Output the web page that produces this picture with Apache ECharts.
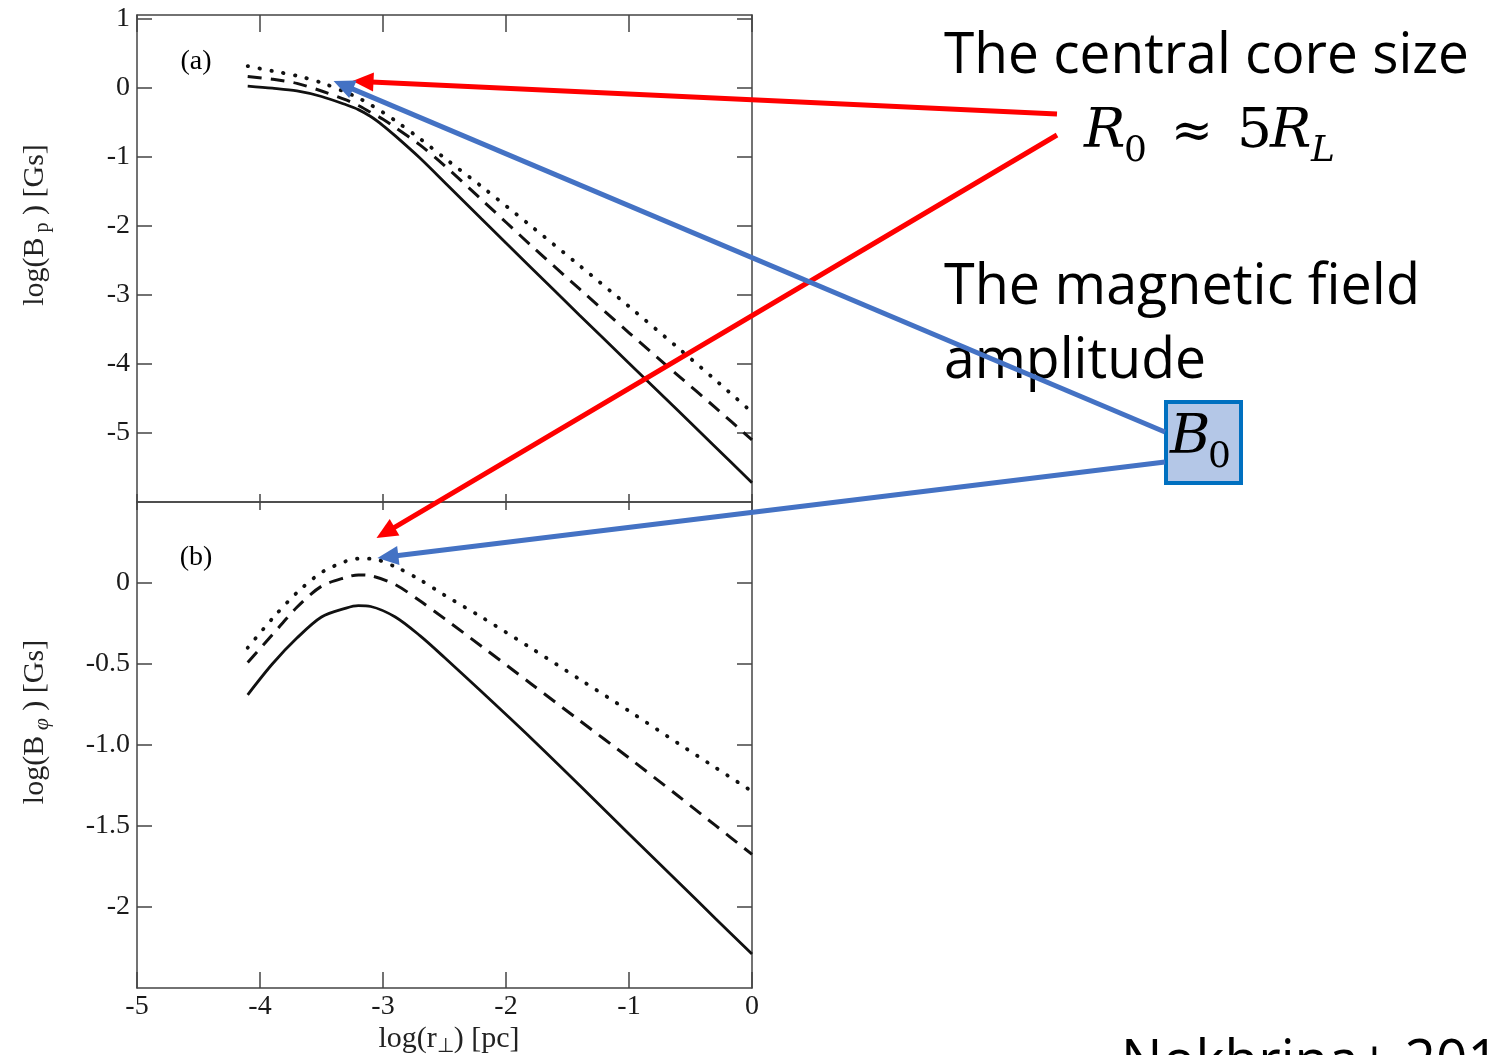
<!DOCTYPE html>
<html><head><meta charset="utf-8">
<script src="https://cdn.jsdelivr.net/npm/echarts@6/dist/echarts.min.js"></script>
<style>html,body{margin:0;padding:0;background:#fff;overflow:hidden;} #c{width:1501px;height:1055px;}</style>
</head><body><div id="c"></div>
<script>
// ---------------- data ----------------
const aX      = [-4.1,-3.9,-3.7,-3.5,-3.3,-3.2,-3.1,-3.0,-2.9,-2.7,-2.5,-2.2,-1.8,-1.4,-1.0,-0.6,-0.3,0];
const aSolid  = [0.02,-0.01,-0.05,-0.13,-0.25,-0.32,-0.42,-0.55,-0.70,-1.02,-1.37,-1.90,-2.60,-3.30,-3.99,-4.68,-5.20,-5.72];
const aDashed = [0.16,0.12,0.06,-0.05,-0.18,-0.26,-0.36,-0.46,-0.58,-0.83,-1.13,-1.62,-2.28,-2.92,-3.55,-4.17,-4.63,-5.10];
const aDotted = [0.31,0.24,0.17,0.07,-0.07,-0.15,-0.25,-0.36,-0.48,-0.74,-1.02,-1.43,-2.00,-2.58,-3.17,-3.77,-4.23,-4.70];

const bX      = [-4.1,-3.9,-3.7,-3.5,-3.3,-3.2,-3.1,-2.9,-2.7,-2.5,-2.2,-1.8,-1.4,-1.0,-0.6,-0.3,0];
const bSolid  = [-0.69,-0.50,-0.34,-0.21,-0.155,-0.14,-0.145,-0.21,-0.325,-0.46,-0.67,-0.955,-1.25,-1.55,-1.845,-2.07,-2.29];
const bDashed = [-0.49,-0.32,-0.15,-0.02,0.035,0.05,0.045,-0.01,-0.11,-0.22,-0.39,-0.62,-0.85,-1.08,-1.315,-1.495,-1.675];
const bDotted = [-0.40,-0.22,-0.06,0.065,0.135,0.15,0.15,0.10,0.02,-0.075,-0.21,-0.40,-0.595,-0.79,-0.99,-1.138,-1.286];

const xTicks = [-5,-4,-3,-2,-1,0];
const xTickLabels = ['-5','-4','-3','-2','-1','0'];
const aTicks = [-5,-4,-3,-2,-1,0,1];
const aTickLabels = ['-5','-4','-3','-2','-1','0','1'];
const bTicks = [-2,-1.5,-1,-0.5,0];
const bTickLabels = ['-2','-1.5','-1.0','-0.5','0'];

// annotation arrow tips in data coordinates [grid, x, y]
const arrowTips = { red1:[0,-3.248,0.094], blue1:[0,-3.402,0.094], red2:[1,-3.053,0.278], blue2:[1,-3.045,0.154] };

// ---------------- chart ----------------
const chart = echarts.init(document.getElementById('c'), null, {renderer:'canvas'});
const serif = '"Liberation Serif", "Times New Roman", serif';
const axisColor = '#444';
function pairs(xs, ys){ return xs.map((x,i)=>[x, ys[i]]); }
function lab(ticks, labels){ return v => { const i = ticks.findIndex(t=>Math.abs(t-v)<1e-6); return i>=0 ? labels[i] : ''; }; }
function tick(len, vals){ return {show:true, inside:true, length:len, customValues:vals, lineStyle:{color:axisColor, width:1.5}}; }
const aLine = {show:true, onZero:false, lineStyle:{color:axisColor, width:1.5}};
const labStyle = {fontFamily:serif, fontSize:28, color:'#1a1a1a'};

function xAxisDef(grid, pos, showLab, len){
  return {type:'value', gridIndex:grid, position:pos, min:-5, max:0, interval:1,
    axisLine:aLine, axisTick:tick(len, xTicks), splitLine:{show:false},
    axisLabel:Object.assign({show:showLab, customValues:xTicks, margin:5, formatter:lab(xTicks,xTickLabels)}, labStyle)};
}
function yAxisDef(grid, pos, showLab, min, max, interval, ticks, labels){
  return {type:'value', gridIndex:grid, position:pos, min:min, max:max, interval:interval,
    axisLine:aLine, axisTick:tick(15, ticks), splitLine:{show:false},
    axisLabel:Object.assign({show:showLab, customValues:ticks, margin:7, formatter:lab(ticks,labels)}, labStyle)};
}
function ser(xi, yi, xs, ys, style){
  return {type:'line', xAxisIndex:xi, yAxisIndex:yi, data:pairs(xs,ys), showSymbol:false, symbol:'none',
    smooth:0.3, silent:true, lineStyle:style};
}
const solidS  = {color:'#111', width:2.8, type:'solid'};
const dashedS = {color:'#111', width:3, type:[14,9]};
const dottedS = {color:'#111', width:3.8, type:[0.5,11.5], cap:'round'};

chart.setOption({
  animation:false,
  backgroundColor:'#fff',
  grid:[
    {left:137, top:15, width:615, height:487},
    {left:137, top:502, width:615, height:486}
  ],
  xAxis:[
    xAxisDef(0,'bottom',false,8),
    xAxisDef(0,'top',false,17),
    xAxisDef(1,'bottom',true,16),
    xAxisDef(1,'top',false,8)
  ],
  yAxis:[
    yAxisDef(0,'left',true,-6,1.05,1,aTicks,aTickLabels),
    yAxisDef(0,'right',false,-6,1.05,1,aTicks,aTickLabels),
    yAxisDef(1,'left',true,-2.5,0.5,0.5,bTicks,bTickLabels),
    yAxisDef(1,'right',false,-2.5,0.5,0.5,bTicks,bTickLabels)
  ],
  series:[
    ser(0,0,aX,aSolid,solidS), ser(0,0,aX,aDashed,dashedS), ser(0,0,aX,aDotted,dottedS),
    ser(2,2,bX,bSolid,solidS), ser(2,2,bX,bDashed,dashedS), ser(2,2,bX,bDotted,dottedS)
  ]
});

// ---------------- annotations ----------------
const mctx = document.createElement('canvas').getContext('2d');
function fit(text, font, w){ mctx.font = font; return w / mctx.measureText(text).width; }
const sans = '"Open Sans"';
const bigFont = '57px ' + sans;
function txt(text, x, y, font, opts){
  opts = opts || {};
  return Object.assign({type:'text', x:x, y:y, z:50,
    style:{text:text, font:font, fill:'#000', align:opts.align||'left', textAlign:opts.align||'left',
      verticalAlign:'middle', textVerticalAlign:'middle'}}, opts.el||{});
}
const els = [];
const sc1 = fit('The central core size', bigFont, 525);
els.push(txt('The central core size', 944, 57, bigFont, {el:{scaleX:sc1}}));
els.push(txt('The magnetic field', 944, 288, bigFont, {el:{scaleX:fit('The magnetic field', bigFont, 476)}}));
els.push(txt('amplitude', 944, 362, bigFont, {el:{scaleX:fit('amplitude', bigFont, 262)}}));
els.push(txt('Nokhrina+ 2015', 1121, 1064, bigFont, {el:{scaleX:sc1}}));

const mathI = 'italic 55px "DejaVu Serif"';
const mathU = '55px "DejaVu Serif"';
const subI = 'italic 36px "DejaVu Serif"';
const subU = '36px "DejaVu Serif"';
els.push(txt('R', 1084, 133, mathI));
els.push(txt('0', 1124, 152, subU));
els.push(txt('\u2248', 1192, 134, '50px "DejaVu Serif"', {align:'center'}));
els.push(txt('5', 1237, 133, mathU));
els.push(txt('R', 1270, 133, mathI));
els.push(txt('L', 1311, 152, subI));

// box B0
els.push({type:'rect', z:40, shape:{x:1166, y:402, width:75, height:81}, style:{fill:'#b4c7e7', stroke:'#0070c0', lineWidth:4}});
els.push(txt('B', 1170, 439, mathI));
els.push(txt('0', 1208, 458, subU));

// axis names & panel labels
const richBase = {a:{fontFamily:serif, fontSize:30, lineHeight:36, fill:'#222'}, s:{fontFamily:serif, fontSize:20, lineHeight:20, verticalAlign:'bottom', fill:'#222'}, si:{fontFamily:serif, fontSize:22, fontStyle:'italic', lineHeight:20, verticalAlign:'bottom', fill:'#222'}};
function richTxt(text, x, y, rot){
  return {type:'text', x:x, y:y, rotation:rot||0, z:50, style:{text:text, rich:richBase, align:'center', textAlign:'center', verticalAlign:'middle', textVerticalAlign:'middle'}};
}
els.push(richTxt('{a|log(B}{s| p}{a| ) [Gs]}', 35, 225, Math.PI/2));
els.push(richTxt('{a|log(B}{si| \u03c6}{a| ) [Gs]}', 35, 722, Math.PI/2));
els.push(richTxt('{a|log(r}{s|\u22a5}{a|) [pc]}', 449, 1039, 0));
els.push(txt('(a)', 196, 62, '28px ' + serif, {align:'center'}));
els.push(txt('(b)', 196, 558, '28px ' + serif, {align:'center'}));

// arrows
function arrow(tail, tipKey, color){
  const t = arrowTips[tipKey];
  const tip = chart.convertToPixel({xAxisIndex: t[0]===0?0:2, yAxisIndex: t[0]===0?0:2}, [t[1], t[2]]);
  const dx = tip[0]-tail[0], dy = tip[1]-tail[1];
  const len = Math.sqrt(dx*dx+dy*dy), ux = dx/len, uy = dy/len;
  const L = 21, W = 9.5;
  const bx = tip[0]-ux*L, by = tip[1]-uy*L;
  const nx = -uy, ny = ux;
  els.push({type:'line', z:100, shape:{x1:tail[0], y1:tail[1], x2:bx+ux*2, y2:by+uy*2}, style:{stroke:color, lineWidth:5}});
  els.push({type:'polygon', z:100, shape:{points:[[tip[0],tip[1]],[bx+nx*W,by+ny*W],[bx-nx*W,by-ny*W]]}, style:{fill:color}});
}
arrow([1057,114], 'red1', '#ff0000');
arrow([1057,135], 'red2', '#ff0000');
arrow([1165,432], 'blue1', '#4472c4');
arrow([1165,462], 'blue2', '#4472c4');

chart.setOption({graphic:{elements:els}});
</script>
</body></html>
